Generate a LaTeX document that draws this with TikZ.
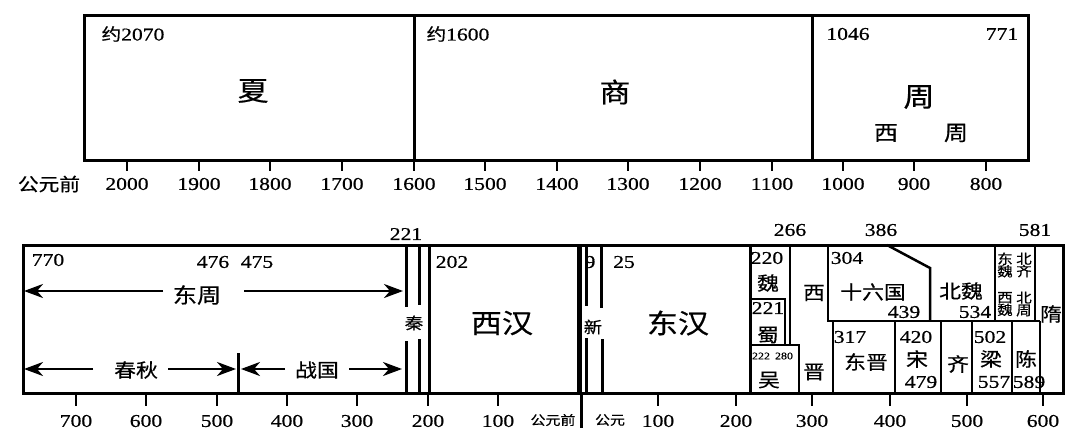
\documentclass[tikz,border=0pt]{standalone}
\usepackage{fontspec}
\setmainfont[FakeStretch=1.2,FakeBold=0.6]{Liberation Serif}
\newfontfamily\cjk[FakeStretch=1.15,FakeBold=0.5]{Noto Sans CJK SC}
\usetikzlibrary{arrows.meta}
\tikzset{
  num/.style={font=\fontsize{18}{18}\selectfont, inner sep=0pt},
  smallnum/.style={font=\fontsize{10}{10}\selectfont, inner sep=0pt},
  cn/.style={font=\cjk\fontsize{19}{19}\selectfont, inner sep=0pt},
  cnbig/.style={font=\cjk\fontsize{27}{27}\selectfont, inner sep=0pt},
  cnmid/.style={font=\cjk\fontsize{21}{21}\selectfont, inner sep=0pt},
  cnsm/.style={font=\cjk\fontsize{16}{16}\selectfont, inner sep=0pt},
  cntiny/.style={font=\cjk\fontsize{13.5}{12.5}\selectfont, inner sep=0pt, align=center},
  cnaxis/.style={font=\cjk\fontsize{13}{13}\selectfont, inner sep=0pt},
  outer/.style={line width=3pt},
  inner/.style={line width=2.5pt},
  tickmark/.style={line width=2.5pt},
  arr/.style={line width=2.5pt, -{Stealth[length=19pt,width=14pt,inset=6pt]}}
}
\begin{document}
\begin{tikzpicture}[x=1pt,y=-1pt]
\useasboundingbox (0,0) rectangle (1080,439);
% ---------------- top row ----------------
\draw[outer] (84,15) rectangle (1028,160);
\draw[outer] (414,15) -- (414,160);
\draw[outer] (812,15) -- (812,160);
\foreach \x/\t in {127/2000,199/1900,270/1800,342/1700,414/1600,485/1500,557/1400,628/1300,700/1200,772/1100,843/1000,914/900,986/800}{
  \draw[tickmark] (\x,160) -- (\x,171);
  \node[num] (ta\t) at (\x,184) {\t};
}
\node[font=\cjk\fontsize{18}{18}\selectfont, inner sep=0pt] (gyqtop) at (49,184) {公元前};
\node[num] (xia0) at (133,34) {{\cjk\fontsize{17}{17}\selectfont 约}2070};
\node[num] (shang0) at (458,34) {{\cjk\fontsize{17}{17}\selectfont 约}1600};
\node[num] (zhou0) at (848,34) {1046};
\node[num] (zhou1) at (1002,34) {771};
\node[cnbig] (xia) at (253,91) {夏};
\node[cnbig] (shang) at (615,92) {商};
\node[cnbig] (zhou) at (919,97) {周};
\node[cnmid] (xz1) at (886,133) {西};
\node[cnmid] (xz2) at (956,133) {周};
% ---------------- bottom row ----------------
\draw[outer] (23,245) rectangle (1063,393);
\draw[outer] (238,353) -- (238,393);
% Qin
\draw[outer] (406,245) -- (406,307) (406,341) -- (406,393);
\draw[outer] (419,245) -- (419,305) (419,339) -- (419,393);
\draw[outer] (429,245) -- (429,393);
% BC / AD divider and Xin
\draw[line width=5pt] (579.5,245) -- (579.5,393);
\draw[outer] (581,393) -- (581,428);
\draw[outer] (586,245) -- (586,306) (586,338) -- (586,393);
\draw[outer] (601,245) -- (601,308) (602,339) -- (602,393);
% Three Kingdoms
\draw[outer] (750,245) -- (750,393);
\draw[inner] (750,299) -- (785,299) -- (785,345);
\draw[inner] (790,245) -- (790,345);
\draw[inner] (750,345) -- (799,345) -- (799,393);
% Sixteen Kingdoms / Northern dynasties
\draw[inner] (828,245) -- (828,321) -- (1040,321);
\draw[inner] (887,245) -- (930,268) -- (930,321);
\draw[inner] (995,245) -- (995,321);
\draw[inner] (1035,245) -- (1035,321);
% Southern dynasties
\draw[inner] (833,321) -- (833,393);
\draw[inner] (895,321) -- (895,393);
\draw[inner] (941,321) -- (941,393);
\draw[inner] (972,321) -- (972,393);
\draw[inner] (1012,321) -- (1012,393);
\draw[inner] (1040,321) -- (1040,393);
% axis
\foreach \x/\t/\i in {76/700/1,146/600/2,217/500/3,287/400/4,357/300/5,428/200/6,498/100/7,658/100/8,736/200/9,812/300/10,890/400/11,967/500/12,1043/600/13}{
  \draw[tickmark] (\x,393) -- (\x,406);
  \node[num] (tb\i) at (\x,421) {\t};
}
\node[cnaxis] (gyq) at (553,420) {公元前};
\node[cnaxis] (gy) at (610,420) {公元};
% numbers
\node[num] (n770) at (48,260) {770};
\node[num] (n476) at (213,262) {476};
\node[num] (n475) at (257,262) {475};
\node[num] (n221a) at (406,234) {221};
\node[num] (n202) at (452,262) {202};
\node[num] (n9) at (590,262) {9};
\node[num] (n25) at (624,262) {25};
\node[num] (n220) at (767,258) {220};
\node[num] (n221b) at (768,308) {221};
\node[smallnum] (n222) at (761,356) {222};
\node[smallnum] (n280) at (784,356) {280};
\node[num] (n266) at (790,230) {266};
\node[num] (n386) at (881,230) {386};
\node[num] (n581) at (1035,230) {581};
\node[num] (n304) at (847,258) {304};
\node[num] (n439) at (904,312) {439};
\node[num] (n534) at (975,312) {534};
\node[num] (n317) at (850,337) {317};
\node[num] (n420) at (916,337) {420};
\node[num] (n479) at (921,382) {479};
\node[num] (n502) at (990,337) {502};
\node[num] (n557) at (994,382) {557};
\node[num] (n589) at (1029,382) {589};
% Chinese labels
\node[cnmid] (dongzhou) at (197,295) {东周};
\node[cn] (chunqiu) at (136,370) {春秋};
\node[cn] (zhanguo) at (317,370) {战国};
\node[cnsm] (qin) at (414,323) {秦};
\node[cnbig] (xihan) at (502,323) {西汉};
\node[cnsm] (xin) at (593,327) {新};
\node[cnbig] (donghan) at (678,323) {东汉};
\node[cn] (wei) at (768,283) {魏};
\node[cn] (shu) at (768,335) {蜀};
\node[cn] (wu) at (769,380) {吴};
\node[cn] (xj1) at (814,293) {西};
\node[cn] (xj2) at (814,372) {晋};
\node[cn] (sljg) at (873,292) {十六国};
\node[cn] (beiwei) at (961,291) {北魏};
\node[cntiny] (dongwei) at (1005,265) {东\\魏};
\node[cntiny] (xiwei) at (1005,304) {西\\魏};
\node[cntiny] (beiqi) at (1024,265) {北\\齐};
\node[cntiny] (beizhou) at (1024,304) {北\\周};
\node[cn] (sui) at (1051,314) {隋};
\node[cn] (dongjin) at (866,362) {东晋};
\node[cn] (song) at (917,359) {宋};
\node[cn] (qi) at (958,364) {齐};
\node[cn] (liang) at (991,359) {梁};
\node[cn] (chen) at (1026,359) {陈};
% arrows
\coordinate (dzL) at (163,291);
\coordinate (dzLe) at (24,291);
\coordinate (dzR) at (244,291);
\coordinate (dzRe) at (403,291);
\coordinate (cqL) at (93,369);
\coordinate (cqLe) at (24,369);
\coordinate (cqR) at (168,369);
\coordinate (cqRe) at (236,369);
\coordinate (zgL) at (285,369);
\coordinate (zgLe) at (241,369);
\coordinate (zgR) at (349,369);
\coordinate (zgRe) at (402,369);
\draw[arr] (dzL) -- (dzLe);
\draw[arr] (dzR) -- (dzRe);
\draw[arr] (cqL) -- (cqLe);
\draw[arr] (cqR) -- (cqRe);
\draw[arr] (zgL) -- (zgLe);
\draw[arr] (zgR) -- (zgRe);
\end{tikzpicture}
\end{document}
